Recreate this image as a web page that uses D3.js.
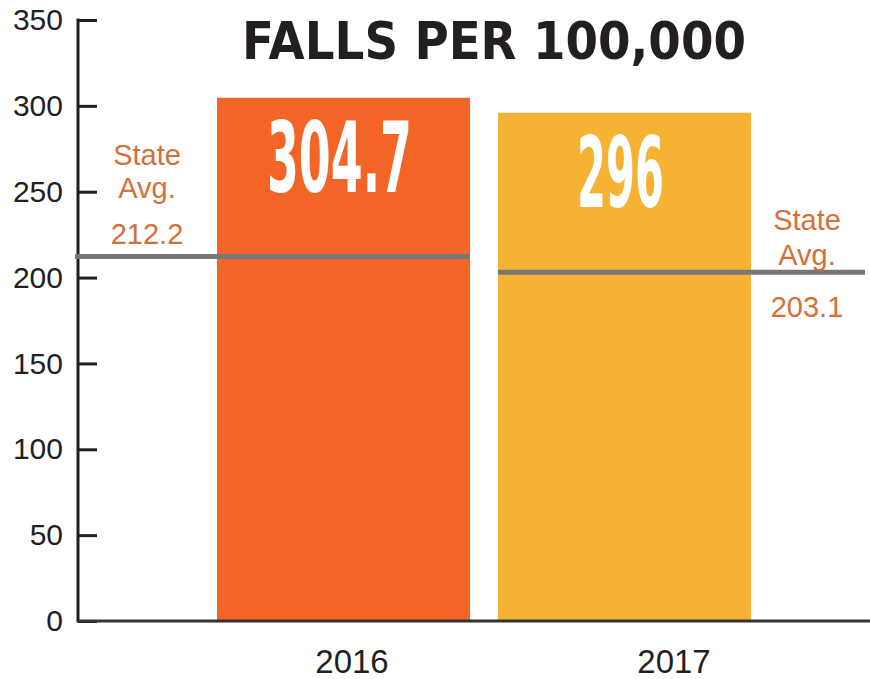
<!DOCTYPE html>
<html>
<head>
  <meta charset="utf-8">
  <script src="https://d3js.org/d3.v7.min.js"></script>
  <style>
    body { margin: 0; background: #fff; }
    text { font-family: "Liberation Sans", Arial, sans-serif; }
  </style>
</head>
<body>
<script>
  "use strict";

  // chart data
  var years = ["2016", "2017"];
  var falls = [304.7, 296];
  var stateAvg = [212.2, 203.1];
  var barColors = ["#F36527", "#F6B233"];
  var yTicks = [0, 50, 100, 150, 200, 250, 300, 350];
  var title = "FALLS PER 100,000";

  var width = 870, height = 679;

  var svg = d3.select("body")
    .append("svg")
      .attr("width", width)
      .attr("height", height);

  var y = d3.scaleLinear().domain([0, 350]).range([621, 20]);
  var x = d3.scaleBand().domain(years).range([217, 751]).paddingInner(0.1);
  // year labels sit a bit to the right of the bars in the original
  var xLabel = d3.scalePoint().domain(years).range([352, 674]);

  // bars
  svg.selectAll("rect.bar")
    .data(years)
    .enter()
    .append("rect")
      .attr("class", "bar")
      .attr("x", function (d) { return x(d); })
      .attr("width", x.bandwidth())
      .attr("y", function (d, i) { return y(falls[i]); })
      .attr("height", function (d, i) { return y(0) - y(falls[i]); })
      .attr("fill", function (d, i) { return barColors[i]; });

  // y axis, ticks point inward
  var yAxis = d3.axisLeft(y).tickValues(yTicks).tickSize(-19).tickPadding(15);
  var ya = svg.append("g")
    .attr("transform", "translate(78,0)")
    .call(yAxis);
  ya.select(".domain").remove();
  ya.selectAll(".tick line").attr("stroke", "#231f20").attr("stroke-width", 3);
  ya.selectAll(".tick text")
    .attr("fill", "#231f20")
    .style("font-size", "30px");
  ya.append("line")
    .attr("x1", 0).attr("x2", 0)
    .attr("y1", y(350) - 1.5).attr("y2", y(0) + 1.5)
    .attr("stroke", "#231f20").attr("stroke-width", 3);

  // x axis baseline
  svg.append("line")
    .attr("x1", 78).attr("x2", width)
    .attr("y1", y(0)).attr("y2", y(0))
    .attr("stroke", "#333").attr("stroke-width", 3);

  svg.selectAll("text.year")
    .data(years)
    .enter()
    .append("text")
      .attr("class", "year")
      .attr("x", function (d) { return xLabel(d); })
      .attr("y", 673)
      .attr("text-anchor", "middle")
      .attr("fill", "#231f20")
      .style("font-size", "33px")
      .text(function (d) { return d; });

  // state average lines
  var avgX = [[75, x("2016") + x.bandwidth()], [x("2017"), 865]];
  svg.selectAll("line.avg")
    .data(stateAvg)
    .enter()
    .append("line")
      .attr("class", "avg")
      .attr("x1", function (d, i) { return avgX[i][0]; })
      .attr("x2", function (d, i) { return avgX[i][1]; })
      .attr("y1", function (d) { return y(d); })
      .attr("y2", function (d) { return y(d); })
      .attr("stroke", "#777775")
      .attr("stroke-width", 5);

  // state average labels
  var avgLabelX = [147, 807];
  var avgLabelDy = [[-92, -59, -13], [-42, -7, 45]];
  stateAvg.forEach(function (v, i) {
    var lines = ["State", "Avg.", String(v)];
    svg.selectAll("text.avg" + i)
      .data(lines)
      .enter()
      .append("text")
        .attr("class", "avg" + i)
        .attr("x", avgLabelX[i])
        .attr("y", function (d, j) { return y(v) + avgLabelDy[i][j]; })
        .attr("text-anchor", "middle")
        .attr("fill", "#D4703A")
        .style("font-size", "29px")
        .text(function (d) { return d; });
  });

  // value labels inside bars
  svg.selectAll("text.value")
    .data(falls)
    .enter()
    .append("text")
      .attr("class", "value")
      .attr("x", function (d, i) { return x(years[i]) + x.bandwidth() / 2 - 4; })
      .attr("y", function (d) { return y(d) + 94; })
      .attr("text-anchor", "middle")
      .attr("fill", "#fff")
      .attr("textLength", function (d) { return String(d).length * 29; })
      .attr("lengthAdjust", "spacingAndGlyphs")
      .style("font-family", "'DejaVu Sans', sans-serif")
      .style("font-weight", "bold")
      .style("font-size", "98px")
      .text(function (d) { return d; });

  // title
  svg.append("text")
    .attr("x", 494)
    .attr("y", 59)
    .attr("text-anchor", "middle")
    .attr("fill", "#231f20")
    .attr("textLength", 504)
    .attr("lengthAdjust", "spacingAndGlyphs")
    .style("font-family", "'DejaVu Sans', sans-serif")
    .style("font-weight", "bold")
    .style("font-size", "52px")
    .text(title);
</script>
</body>
</html>
